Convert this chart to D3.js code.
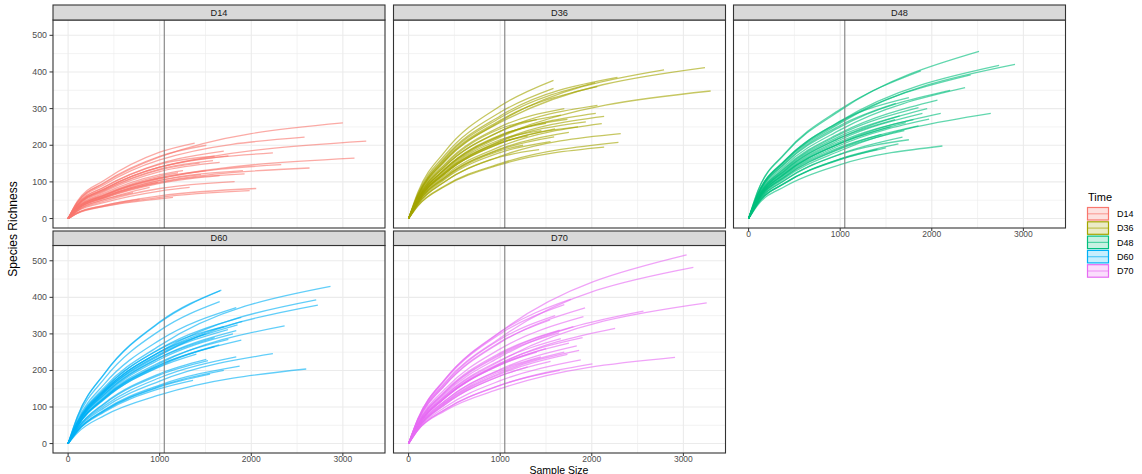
<!DOCTYPE html>
<html lang="en">
<head>
<meta charset="UTF-8">
<title>Rarefaction curves by Time</title>
<script src="https://d3js.org/d3.v7.min.js"></script>
<style>
    body { margin: 0; padding: 0; background: #fff; }
    svg { display: block; font-family: "Liberation Sans", Arial, sans-serif; }
</style>
</head>
<body>
<svg id="chart" width="1142" height="474"></svg>
<script>
// ---- data ----
const panels = ["D14", "D36", "D48", "D60", "D70"];
const colors = ["#F8766D", "#A3A500", "#00BF7D", "#00B0F6", "#E76BF3"];
const xTicks = [0, 1000, 2000, 3000];
const yTicks = [0, 100, 200, 300, 400, 500];
const rareDepth = 1050;   // vertical reference line

// each curve: [max sample size, richness at 100, at 400, at 1000 (null if shorter), richness at max]
const curvesD14 = [
    [3000, 44, 97, 168, 261], [2582, 42, 93, 160, 222], [3255, 36, 81, 140, 211],
    [3127, 29, 64, 110, 165], [2636, 26, 58, 100, 138], [2327, 28, 63, 108, 147],
    [2236, 36, 81, 140, 179], [2054, 16, 36, 62, 82], [1982, 15, 34, 58, 76],
    [1818, 21, 48, 82, 101], [1927, 25, 57, 98, 122], [1909, 27, 60, 104, 131],
    [1382, 47, 105, 181, 206], [1509, 44, 99, 170, 200], [1700, 39, 87, 150, 184],
    [1750, 36, 81, 140, 171], [1655, 33, 74, 128, 153], [1509, 29, 65, 112, 131],
    [1655, 25, 56, 96, 117], [1145, 14, 33, 54, 58], [1327, 20, 44, 75, 85],
    [1255, 31, 70, 120, 131], [1436, 35, 77, 133, 151], [1582, 35, 78, 135, 158],
    [1073, 29, 64, 110, 113], [980, 26, 60, null, 99], [890, 23, 52, null, 85],
    [709, 22, 52, null, 71], [782, 15, 36, null, 53], [1200, 32, 67, 116, 125],
    [1450, 27, 60, 104, 120], [1600, 38, 86, 148, 170]
];
const curvesD36 = [
    [3236, 60, 157, 262, 412], [2789, 61, 159, 265, 406], [3298, 52, 135, 225, 348],
    [2280, 64, 168, 280, 385], [2036, 63, 165, 275, 371], [2060, 62, 161, 268, 360],
    [1582, 71, 184, 307, 377], [1582, 67, 174, 290, 355], [2062, 55, 143, 238, 309],
    [2044, 51, 133, 222, 287], [2135, 49, 127, 212, 279], [2109, 45, 118, 196, 259],
    [2316, 39, 102, 170, 232], [2291, 35, 90, 150, 208], [2135, 34, 88, 147, 195],
    [1734, 52, 136, 226, 271], [1662, 55, 143, 238, 282], [1589, 43, 113, 188, 223],
    [1425, 39, 101, 168, 188], [1935, 48, 126, 210, 264], [1850, 47, 123, 205, 250],
    [1700, 58, 150, 250, 300], [1500, 52, 137, 228, 260], [1450, 49, 129, 215, 240],
    [1600, 47, 123, 205, 245], [1300, 48, 124, 207, 225], [1750, 44, 114, 190, 235],
    [1400, 56, 147, 245, 270], [1250, 43, 111, 185, 200], [1550, 41, 108, 180, 210]
];
const curvesD48 = [
    [2516, 74, 177, 295, 456], [2735, 67, 160, 266, 418], [2909, 65, 156, 260, 421],
    [2425, 66, 158, 263, 392], [2364, 61, 145, 242, 357], [1880, 75, 179, 298, 403],
    [2062, 58, 140, 233, 323], [1855, 58, 138, 230, 303], [1898, 54, 129, 215, 287],
    [2098, 52, 124, 206, 287], [1971, 50, 120, 200, 271], [1855, 48, 115, 192, 253],
    [2644, 46, 111, 185, 287], [1680, 44, 106, 176, 222], [1636, 41, 98, 163, 204],
    [1498, 40, 97, 161, 193], [2116, 37, 88, 147, 198], [1716, 51, 123, 205, 262],
    [1607, 64, 152, 254, 314], [1407, 41, 97, 162, 189], [1750, 66, 159, 265, 330],
    [1650, 56, 135, 225, 280], [1800, 53, 126, 210, 270], [1550, 51, 123, 205, 250],
    [1700, 48, 114, 190, 240], [1950, 55, 132, 220, 300], [1450, 49, 117, 195, 230],
    [1600, 55, 132, 220, 270], [2200, 63, 150, 250, 350], [1750, 44, 105, 175, 215]
];
const curvesD60 = [
    [1673, 73, 193, 333, 420], [1655, 68, 179, 309, 388], [1836, 62, 164, 283, 372],
    [1891, 57, 150, 259, 345], [1902, 55, 145, 250, 334], [1836, 52, 136, 235, 309],
    [1745, 53, 141, 243, 312], [1891, 47, 123, 212, 283], [2865, 59, 155, 268, 430],
    [2709, 55, 146, 251, 393], [2727, 53, 140, 241, 379], [2364, 48, 127, 219, 322],
    [2236, 38, 99, 171, 246], [2600, 29, 77, 133, 204], [1836, 40, 104, 180, 237],
    [1873, 35, 93, 160, 212], [1509, 42, 111, 191, 230], [1527, 41, 109, 188, 227],
    [1364, 33, 87, 150, 173], [1700, 57, 150, 258, 320], [1800, 51, 133, 230, 300],
    [1600, 52, 136, 235, 290], [1750, 49, 129, 222, 285], [1500, 55, 145, 250, 300],
    [1850, 54, 142, 245, 325], [1650, 47, 125, 215, 270], [1400, 46, 122, 210, 245],
    [1700, 35, 91, 157, 200], [1550, 34, 90, 155, 190], [1600, 47, 125, 215, 265],
    [1660, 73, 192, 331, 418]
];
const curvesD70 = [
    [3036, 67, 177, 305, 516], [3109, 64, 168, 289, 482], [3255, 50, 131, 226, 385],
    [2564, 52, 137, 237, 362], [2255, 48, 126, 218, 315], [1927, 61, 160, 276, 371],
    [1909, 57, 150, 259, 347], [1771, 67, 177, 305, 395], [1545, 61, 161, 278, 338],
    [2909, 36, 90, 150, 236], [2007, 37, 94, 159, 218], [1880, 39, 100, 172, 229],
    [1862, 42, 112, 193, 255], [1836, 45, 118, 203, 267], [1734, 42, 110, 190, 244],
    [1644, 53, 140, 242, 303], [1662, 50, 132, 228, 287], [1444, 44, 117, 201, 237],
    [1700, 66, 174, 300, 380], [1600, 63, 165, 285, 350], [1650, 55, 144, 248, 310],
    [1500, 48, 126, 217, 260], [1750, 47, 125, 215, 275], [1400, 47, 125, 215, 250],
    [1800, 54, 142, 245, 320], [1550, 41, 107, 185, 225], [1650, 37, 93, 160, 200],
    [1300, 41, 107, 185, 210], [1700, 43, 114, 197, 250], [1900, 48, 128, 220, 290]
];
const allCurves = [curvesD14, curvesD36, curvesD48, curvesD60, curvesD70];

// ---- layout ----
const svg = d3.select("#chart");
const colLeft = [53, 393.5, 733.5];
const panelW = 332;
const rows = [
    { stripTop: 5, plotTop: 20, plotBottom: 228 },
    { stripTop: 231, plotTop: 245.5, plotBottom: 453 }
];

const x = d3.scaleLinear().domain([-165, 3460]);
const yDomain = [-25.8, 541.8];

const line = d3.line().curve(d3.curveMonotoneX);

function curvePoints(c) {
    const pts = [[0, 0], [100, c[1]], [400, c[2]]];
    if (c[3] != null && c[0] > 1000) pts.push([1000, c[3]]);
    pts.push([c[0], c[4]]);
    return pts;
}

panels.forEach((name, i) => {
    const r = rows[Math.floor(i / 3)];
    const col = i % 3;
    const left = colLeft[col];
    const xs = x.copy().range([left, left + panelW]);
    const ys = d3.scaleLinear().domain(yDomain).range([r.plotBottom, r.plotTop]);
    const g = svg.append("g");

    // background grid
    const minorY = d3.range(50, 550, 100);
    g.selectAll(".gy2").data(minorY).join("line")
        .attr("x1", left).attr("x2", left + panelW)
        .attr("y1", d => ys(d)).attr("y2", d => ys(d))
        .attr("stroke", "#EBEBEB").attr("stroke-width", 0.6);
    const minorX = [500, 1500, 2500];
    g.selectAll(".gx2").data(minorX).join("line")
        .attr("y1", r.plotTop).attr("y2", r.plotBottom)
        .attr("x1", d => xs(d)).attr("x2", d => xs(d))
        .attr("stroke", "#EBEBEB").attr("stroke-width", 0.6);
    g.selectAll(".gy").data(yTicks).join("line")
        .attr("x1", left).attr("x2", left + panelW)
        .attr("y1", d => ys(d)).attr("y2", d => ys(d))
        .attr("stroke", "#EBEBEB").attr("stroke-width", 1.1);
    g.selectAll(".gx").data(xTicks).join("line")
        .attr("y1", r.plotTop).attr("y2", r.plotBottom)
        .attr("x1", d => xs(d)).attr("x2", d => xs(d))
        .attr("stroke", "#EBEBEB").attr("stroke-width", 1.1);

    // clip
    const clipId = "clip" + i;
    svg.append("clipPath").attr("id", clipId).append("rect")
        .attr("x", left).attr("y", r.plotTop)
        .attr("width", panelW).attr("height", r.plotBottom - r.plotTop);

    // curves
    g.append("g").attr("clip-path", `url(#${clipId})`)
        .selectAll("path").data(allCurves[i]).join("path")
        .attr("d", d => line(curvePoints(d).map(p => [xs(p[0]), ys(p[1])])))
        .attr("fill", "none")
        .attr("stroke", colors[i])
        .attr("stroke-opacity", 0.62)
        .attr("stroke-width", 1.3);

    // reference line
    g.append("line")
        .attr("x1", xs(rareDepth)).attr("x2", xs(rareDepth))
        .attr("y1", r.plotTop).attr("y2", r.plotBottom)
        .attr("stroke", "#7F7F7F").attr("stroke-width", 1.1);

    // panel border
    g.append("rect")
        .attr("x", left).attr("y", r.plotTop)
        .attr("width", panelW).attr("height", r.plotBottom - r.plotTop)
        .attr("fill", "none").attr("stroke", "#333333").attr("stroke-width", 1.1);

    // strip
    g.append("rect")
        .attr("x", left).attr("y", r.stripTop)
        .attr("width", panelW).attr("height", r.plotTop - r.stripTop)
        .attr("fill", "#D9D9D9").attr("stroke", "#333333").attr("stroke-width", 1.1);
    g.append("text")
        .attr("x", left + panelW / 2).attr("y", (r.stripTop + r.plotTop) / 2 + 3.2)
        .attr("text-anchor", "middle")
        .attr("font-size", 9.2).attr("fill", "#1A1A1A")
        .text(name);

    // y axis on first column
    if (col === 0) {
        const ya = g.append("g");
        ya.selectAll("line").data(yTicks).join("line")
            .attr("x1", left - 3.5).attr("x2", left)
            .attr("y1", d => ys(d)).attr("y2", d => ys(d))
            .attr("stroke", "#333333").attr("stroke-width", 1);
        ya.selectAll("text").data(yTicks).join("text")
            .attr("x", left - 6).attr("y", d => ys(d) + 3)
            .attr("text-anchor", "end")
            .attr("font-size", 8.8).attr("fill", "#4D4D4D")
            .text(d => d);
    }
    // x axis where nothing sits below
    if (i >= 2) {
        const xa = g.append("g");
        xa.selectAll("line").data(xTicks).join("line")
            .attr("x1", d => xs(d)).attr("x2", d => xs(d))
            .attr("y1", r.plotBottom).attr("y2", r.plotBottom + 3)
            .attr("stroke", "#333333").attr("stroke-width", 1);
        xa.selectAll("text").data(xTicks).join("text")
            .attr("x", d => xs(d)).attr("y", r.plotBottom + 8.5)
            .attr("text-anchor", "middle")
            .attr("font-size", 8.5).attr("fill", "#4D4D4D")
            .text(d => d);
    }
});

// axis titles
svg.append("text")
    .attr("x", 559).attr("y", 473.5)
    .attr("text-anchor", "middle")
    .attr("font-size", 10.5).attr("fill", "#000")
    .text("Sample Size");
svg.append("text")
    .attr("transform", "translate(17,229) rotate(-90)")
    .attr("text-anchor", "middle")
    .attr("font-family", "'Liberation Sans Narrow', 'Liberation Sans', Arial, sans-serif")
    .attr("font-size", 12).attr("fill", "#000")
    .text("Species Richness");

// legend
const legend = svg.append("g").attr("transform", "translate(1087,207)");
legend.append("text")
    .attr("x", 1).attr("y", -6)
    .attr("font-size", 11).attr("fill", "#000")
    .text("Time");
panels.forEach((name, i) => {
    const ky = i * 14.3;
    legend.append("rect")
        .attr("x", 0.5).attr("y", ky + 0.5)
        .attr("width", 21).attr("height", 12.5)
        .attr("fill", colors[i]).attr("fill-opacity", 0.22)
        .attr("stroke", colors[i]).attr("stroke-width", 1.2);
    legend.append("line")
        .attr("x1", 1).attr("x2", 21.5)
        .attr("y1", ky + 6.8).attr("y2", ky + 6.8)
        .attr("stroke", colors[i]).attr("stroke-opacity", 0.6).attr("stroke-width", 1.2);
    legend.append("text")
        .attr("x", 30).attr("y", ky + 10)
        .attr("font-size", 9).attr("fill", "#000")
        .text(name);
});
</script>
</body>
</html>
